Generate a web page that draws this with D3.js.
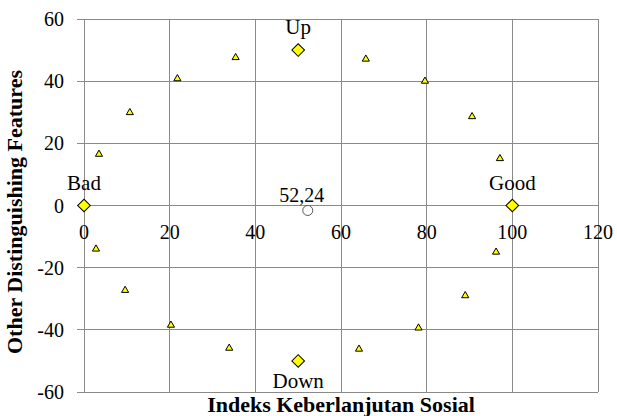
<!DOCTYPE html>
<html><head><meta charset="utf-8">
<script src="https://cdn.jsdelivr.net/npm/d3@7"></script>
<style>body{margin:0;background:#fff}svg{display:block}</style>
</head><body>
<svg id="c" width="617" height="416" font-family="'Liberation Serif','Times New Roman',serif"></svg>
<script>
const xTicks = [0,20,40,60,80,100,120];
const yTicks = [-60,-40,-20,0,20,40,60];
const triX = [3.5,10.7,21.8,35.4,65.8,79.6,90.6,97.1,2.8,9.6,20.3,33.9,64.2,78.1,89.0,96.2];
const triY = [16.5,29.9,40.8,47.6,47.1,40.0,28.6,15.1,-14.0,-27.3,-38.5,-45.9,-46.2,-39.4,-29.0,-15.0];
const anchorNames = ["Bad","Good","Up","Down"];
const anchorX = [0,100,50,50];
const anchorY = [0,0,50,-50];
const statusLabel = ["52,24"];
const statusX = [52.24];
const statusY = [-1.6];
const xTitle = "Indeks Keberlanjutan Sosial";
const yTitle = "Other Distinguishing Features";

const svg = d3.select("#c");
const x = d3.scaleLinear().domain([0,120]).range([84,598]);
const y = d3.scaleLinear().domain([-60,60]).range([392,19]);
const grid = "#8a8a8a";

// grid
svg.append("g").selectAll("line").data(xTicks).join("line")
  .attr("x1",d=>x(d)).attr("x2",d=>x(d)).attr("y1",y(60)).attr("y2",y(-60))
  .attr("stroke",grid).attr("stroke-width",1).attr("shape-rendering","crispEdges");
svg.append("g").selectAll("line").data(yTicks).join("line")
  .attr("x1",x(0)-7).attr("x2",x(120)).attr("y1",d=>y(d)).attr("y2",d=>y(d))
  .attr("stroke",grid).attr("stroke-width",1).attr("shape-rendering","crispEdges");

// y tick labels
svg.append("g").selectAll("text").data(yTicks).join("text")
  .attr("x",64).attr("y",d=>y(d)).attr("dy","0.35em").attr("text-anchor","end")
  .attr("font-size",20).text(d=>d);
// x tick labels
svg.append("g").selectAll("text").data(xTicks).join("text")
  .attr("x",d=>x(d)).attr("y",239).attr("text-anchor","middle")
  .attr("font-size",20).text(d=>d);

// titles
svg.append("text").attr("x",341).attr("y",412).attr("text-anchor","middle")
  .attr("font-size",22).attr("font-weight","bold").text(xTitle);
svg.append("text").attr("transform","translate(22,212) rotate(-90)").attr("text-anchor","middle")
  .attr("font-size",22).attr("font-weight","bold").text(yTitle);

// triangles
const tri = d3.symbol().type(d3.symbolTriangle).size(22);
svg.append("g").selectAll("path").data(triX).join("path")
  .attr("d",tri).attr("transform",(d,i)=>`translate(${x(d)},${y(triY[i])})`)
  .attr("fill","#ffff00").attr("stroke","#000").attr("stroke-width",1);

// diamonds
const dia = d3.symbol().type(d3.symbolSquare).size(80);
svg.append("g").selectAll("path").data(anchorX).join("path")
  .attr("d",dia).attr("transform",(d,i)=>`translate(${x(d)},${y(anchorY[i])}) rotate(45)`)
  .attr("fill","#ffff00").attr("stroke","#000").attr("stroke-width",1);

// anchor labels
svg.append("g").selectAll("text").data(anchorNames).join("text")
  .attr("x",(d,i)=>x(anchorX[i])).attr("y",(d,i)=>y(anchorY[i]) + (d==="Down"?27:-16))
  .attr("text-anchor","middle").attr("font-size",21).text(d=>d);

// status point
svg.append("g").selectAll("circle").data(statusX).join("circle")
  .attr("cx",d=>x(d)).attr("cy",(d,i)=>y(statusY[i])).attr("r",5)
  .attr("fill","#fff").attr("stroke","#555").attr("stroke-width",1);
svg.append("g").selectAll("text").data(statusLabel).join("text")
  .attr("x",(d,i)=>x(statusX[i])-6).attr("y",(d,i)=>y(statusY[i])-8)
  .attr("text-anchor","middle").attr("font-size",20).text(d=>d);
</script>
</body></html>
